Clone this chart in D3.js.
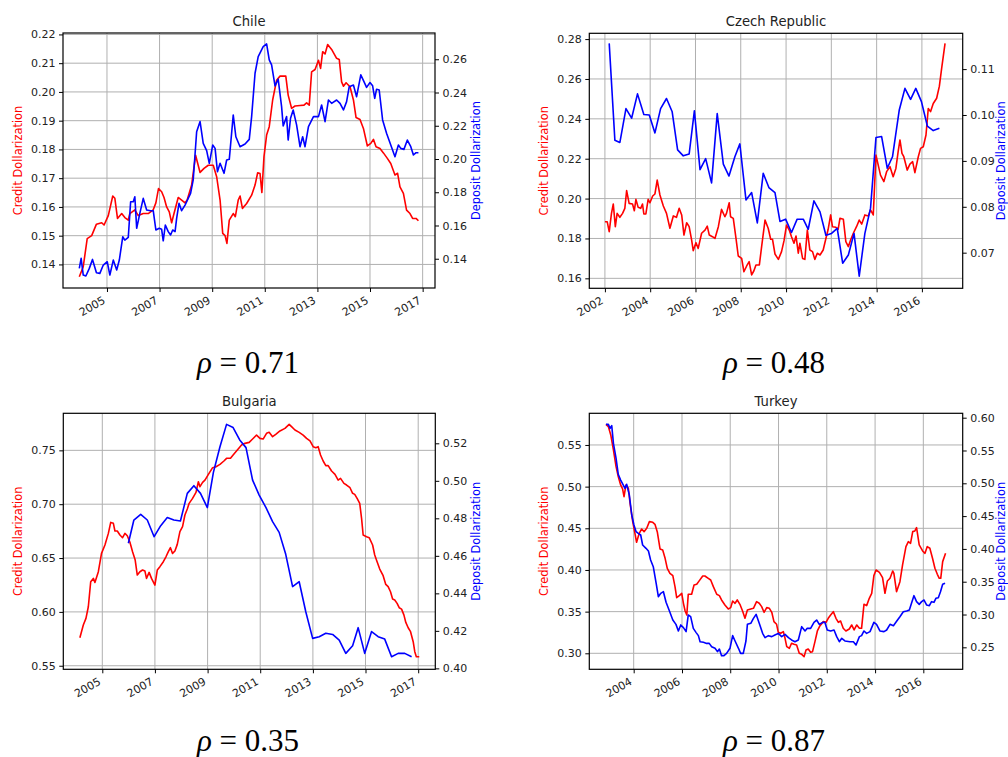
<!DOCTYPE html>
<html><head><meta charset="utf-8">
<script src="https://cdn.jsdelivr.net/npm/d3@7"></script>
<style>body{margin:0;background:#fff}svg{display:block}</style>
</head><body><svg id="c" width="1008" height="757"></svg>
<script>
// ---------- DATA (decimal year, value) ----------
const panelTitles = ["Chile", "Czech Republic", "Bulgaria", "Turkey"];
const rhoLabels = ["0.71", "0.48", "0.35", "0.87"];

const chileCredit = [[2003.95,0.1357],[2004.10,0.1392],[2004.25,0.149],[2004.42,0.150],[2004.6,0.154],[2004.8,0.1545],[2004.89,0.1537],[2005.05,0.157],[2005.22,0.1638],[2005.3,0.163],[2005.4,0.156],[2005.56,0.1577],[2005.68,0.1563],[2005.81,0.1554],[2005.87,0.1577],[2006.06,0.159],[2006.19,0.157],[2006.38,0.1577],[2006.57,0.1577],[2006.76,0.159],[2006.86,0.1614],[2006.96,0.1664],[2007.08,0.1653],[2007.17,0.1633],[2007.27,0.160],[2007.37,0.1583],[2007.46,0.1545],[2007.55,0.1577],[2007.71,0.1633],[2007.84,0.1624],[2007.97,0.1614],[2008.05,0.1624],[2008.22,0.1676],[2008.37,0.178],[2008.54,0.172],[2008.69,0.1734],[2008.85,0.1745],[2009.04,0.1745],[2009.17,0.1705],[2009.3,0.1624],[2009.4,0.1508],[2009.49,0.150],[2009.56,0.1473],[2009.65,0.1554],[2009.8,0.1577],[2009.88,0.1566],[2009.99,0.1624],[2010.06,0.1638],[2010.15,0.1595],[2010.31,0.1612],[2010.5,0.1641],[2010.63,0.1676],[2010.73,0.1719],[2010.82,0.1716],[2010.89,0.165],[2010.97,0.1775],[2011.07,0.185],[2011.17,0.1879],[2011.3,0.1972],[2011.45,0.2041],[2011.58,0.2055],[2011.8,0.2055],[2011.89,0.1989],[2012.02,0.1943],[2012.15,0.1951],[2012.34,0.1953],[2012.49,0.1954],[2012.59,0.1962],[2012.69,0.1954],[2012.78,0.207],[2012.91,0.2078],[2013.04,0.211],[2013.12,0.2082],[2013.2,0.214],[2013.29,0.2132],[2013.39,0.2165],[2013.54,0.2148],[2013.73,0.2117],[2013.83,0.2113],[2013.92,0.2035],[2013.99,0.202],[2014.09,0.2032],[2014.24,0.2018],[2014.37,0.1972],[2014.47,0.1911],[2014.62,0.1904],[2014.75,0.1873],[2014.9,0.1812],[2015.03,0.1821],[2015.13,0.1835],[2015.23,0.1809],[2015.38,0.1803],[2015.51,0.1788],[2015.66,0.1769],[2015.79,0.1751],[2015.95,0.1711],[2016.05,0.1717],[2016.14,0.167],[2016.27,0.1647],[2016.39,0.1589],[2016.52,0.1577],[2016.62,0.156],[2016.75,0.156],[2016.84,0.1552]];
const chileDeposit = [[2003.95,0.1342],[2004.02,0.1402],[2004.1,0.1302],[2004.2,0.1296],[2004.33,0.1342],[2004.45,0.1396],[2004.6,0.1316],[2004.73,0.1312],[2004.86,0.1362],[2005.01,0.1382],[2005.11,0.1302],[2005.24,0.1392],[2005.37,0.1332],[2005.47,0.1392],[2005.6,0.1532],[2005.68,0.1512],[2005.81,0.1528],[2005.9,0.1743],[2006.0,0.1743],[2006.06,0.1773],[2006.13,0.1583],[2006.25,0.1673],[2006.38,0.1763],[2006.51,0.1693],[2006.66,0.1689],[2006.76,0.1689],[2006.86,0.1573],[2006.99,0.1583],[2007.08,0.1577],[2007.14,0.1508],[2007.22,0.1603],[2007.33,0.1563],[2007.42,0.1543],[2007.5,0.1573],[2007.59,0.1563],[2007.65,0.1643],[2007.74,0.1733],[2007.84,0.1689],[2007.97,0.1723],[2008.09,0.1763],[2008.18,0.1793],[2008.28,0.1874],[2008.41,0.2164],[2008.54,0.2225],[2008.66,0.2094],[2008.79,0.205],[2008.89,0.1974],[2009.02,0.2084],[2009.11,0.2064],[2009.2,0.1924],[2009.3,0.1974],[2009.45,0.1914],[2009.55,0.1994],[2009.65,0.1998],[2009.8,0.2265],[2009.9,0.2134],[2010.06,0.2074],[2010.25,0.209],[2010.41,0.2118],[2010.5,0.2255],[2010.63,0.2516],[2010.75,0.2616],[2010.94,0.2676],[2011.07,0.2692],[2011.17,0.2596],[2011.26,0.2566],[2011.39,0.244],[2011.51,0.248],[2011.64,0.2315],[2011.7,0.2199],[2011.83,0.2255],[2011.89,0.2114],[2011.98,0.2245],[2012.08,0.2295],[2012.21,0.2205],[2012.34,0.2074],[2012.44,0.2134],[2012.53,0.2074],[2012.66,0.2195],[2012.85,0.2255],[2013.04,0.2255],[2013.16,0.2325],[2013.29,0.2225],[2013.42,0.2355],[2013.54,0.2335],[2013.73,0.2355],[2013.86,0.2335],[2013.99,0.2295],[2014.11,0.2345],[2014.21,0.2435],[2014.37,0.2445],[2014.49,0.2375],[2014.65,0.2506],[2014.77,0.2466],[2014.87,0.2431],[2015.0,0.246],[2015.1,0.244],[2015.18,0.2365],[2015.25,0.242],[2015.35,0.2415],[2015.48,0.2235],[2015.63,0.2155],[2015.79,0.2084],[2015.95,0.2014],[2016.08,0.2084],[2016.17,0.2064],[2016.29,0.2058],[2016.42,0.2114],[2016.55,0.2074],[2016.65,0.2024],[2016.75,0.2038],[2016.84,0.2038]];

const czechCredit = [[2002.0,0.1884],[2002.1,0.1884],[2002.19,0.1834],[2002.29,0.1926],[2002.37,0.1973],[2002.46,0.1859],[2002.54,0.1926],[2002.66,0.1906],[2002.78,0.1926],[2002.88,0.1951],[2002.96,0.204],[2003.07,0.1976],[2003.22,0.1973],[2003.3,0.1939],[2003.37,0.1996],[2003.47,0.1956],[2003.58,0.1951],[2003.66,0.1973],[2003.72,0.1923],[2003.81,0.1923],[2003.91,0.1996],[2003.99,0.1979],[2004.11,0.2013],[2004.21,0.2023],[2004.31,0.2093],[2004.43,0.2018],[2004.58,0.1963],[2004.72,0.1926],[2004.87,0.1851],[2005.02,0.1913],[2005.16,0.1906],[2005.28,0.1951],[2005.39,0.1918],[2005.49,0.1817],[2005.61,0.1879],[2005.72,0.1859],[2005.83,0.1792],[2005.9,0.1739],[2006.02,0.1779],[2006.12,0.175],[2006.27,0.1826],[2006.42,0.1842],[2006.52,0.1862],[2006.61,0.1817],[2006.75,0.1809],[2006.86,0.18],[2007.01,0.1859],[2007.15,0.1946],[2007.3,0.1909],[2007.37,0.1926],[2007.49,0.1979],[2007.55,0.1909],[2007.67,0.1901],[2007.79,0.18],[2007.89,0.1712],[2008.04,0.17],[2008.14,0.1633],[2008.26,0.1662],[2008.37,0.1684],[2008.48,0.1617],[2008.58,0.1638],[2008.67,0.1667],[2008.82,0.1667],[2008.92,0.1759],[2009.07,0.1892],[2009.21,0.1851],[2009.32,0.1796],[2009.4,0.1796],[2009.51,0.1722],[2009.66,0.1695],[2009.8,0.1734],[2009.91,0.1789],[2010.02,0.1867],[2010.14,0.1842],[2010.24,0.1809],[2010.35,0.1776],[2010.44,0.1812],[2010.54,0.1726],[2010.61,0.1776],[2010.73,0.17],[2010.83,0.1695],[2010.94,0.1842],[2011.05,0.1742],[2011.17,0.1734],[2011.27,0.1695],[2011.38,0.1726],[2011.5,0.1717],[2011.64,0.1742],[2011.76,0.18],[2011.86,0.1846],[2011.97,0.1918],[2012.05,0.1859],[2012.2,0.1856],[2012.3,0.1846],[2012.38,0.1901],[2012.53,0.1896],[2012.64,0.1784],[2012.75,0.1759],[2012.85,0.1792],[2012.97,0.1826],[2013.11,0.1859],[2013.23,0.1892],[2013.34,0.1872],[2013.48,0.1918],[2013.63,0.1913],[2013.73,0.1943],[2013.85,0.1918],[2013.97,0.2218],[2014.07,0.2168],[2014.17,0.2118],[2014.32,0.2085],[2014.44,0.2135],[2014.59,0.216],[2014.73,0.211],[2014.85,0.2151],[2014.95,0.2235],[2015.03,0.2294],[2015.12,0.2227],[2015.2,0.221],[2015.35,0.2143],[2015.47,0.2173],[2015.59,0.2185],[2015.69,0.213],[2015.84,0.221],[2015.94,0.2252],[2016.06,0.226],[2016.18,0.2319],[2016.28,0.2452],[2016.38,0.2436],[2016.5,0.2477],[2016.65,0.2503],[2016.77,0.2564],[2016.87,0.2653],[2017.02,0.2778]];
const czechDeposit = [[2002.19,0.1156],[2002.44,0.0945],[2002.66,0.0940],[2002.93,0.1014],[2003.18,0.0993],[2003.44,0.1046],[2003.72,0.1001],[2003.96,0.1],[2004.21,0.0961],[2004.46,0.1014],[2004.72,0.1036],[2004.97,0.1007],[2005.21,0.0924],[2005.46,0.0911],[2005.72,0.0915],[2005.95,0.1009],[2006.2,0.0881],[2006.45,0.0905],[2006.71,0.0852],[2006.96,0.1003],[2007.23,0.0893],[2007.48,0.0867],[2007.74,0.0909],[2007.96,0.0937],[2008.23,0.0815],[2008.48,0.0831],[2008.73,0.0765],[2008.99,0.0873],[2009.24,0.0842],[2009.51,0.0831],[2009.73,0.0768],[2009.98,0.0773],[2010.24,0.0744],[2010.49,0.0773],[2010.76,0.0773],[2010.98,0.0751],[2011.23,0.0813],[2011.5,0.0789],[2011.76,0.0738],[2012.01,0.0742],[2012.26,0.0753],[2012.5,0.0677],[2012.75,0.0695],[2013.0,0.0742],[2013.23,0.0649],[2013.48,0.0742],[2013.73,0.0797],[2013.97,0.0951],[2014.22,0.0953],[2014.47,0.0884],[2014.7,0.0909],[2015.0,0.1011],[2015.25,0.1058],[2015.5,0.1034],[2015.73,0.1058],[2015.98,0.1029],[2016.24,0.0976],[2016.5,0.0966],[2016.77,0.0971]];

const bulgariaCredit = [[2004.15,0.576],[2004.28,0.5878],[2004.38,0.594],[2004.47,0.6048],[2004.56,0.628],[2004.66,0.6311],[2004.72,0.6274],[2004.85,0.6373],[2004.97,0.6543],[2005.1,0.6621],[2005.23,0.6729],[2005.32,0.6831],[2005.42,0.6822],[2005.48,0.6751],[2005.57,0.6751],[2005.67,0.6714],[2005.77,0.6689],[2005.86,0.6729],[2005.95,0.6707],[2006.05,0.6646],[2006.15,0.6559],[2006.25,0.6481],[2006.33,0.6342],[2006.43,0.6373],[2006.53,0.6389],[2006.62,0.6379],[2006.68,0.6311],[2006.78,0.6367],[2006.87,0.6311],[2007.0,0.6249],[2007.09,0.6389],[2007.19,0.642],[2007.32,0.6466],[2007.42,0.6512],[2007.51,0.6559],[2007.59,0.6596],[2007.67,0.6543],[2007.76,0.6565],[2007.85,0.6627],[2007.95,0.6745],[2008.05,0.6791],[2008.14,0.69],[2008.23,0.6955],[2008.3,0.7008],[2008.43,0.7054],[2008.56,0.711],[2008.65,0.7209],[2008.71,0.7163],[2008.81,0.7203],[2008.9,0.7224],[2009.03,0.7277],[2009.19,0.7339],[2009.32,0.7348],[2009.47,0.737],[2009.62,0.7401],[2009.72,0.7426],[2009.87,0.7426],[2009.97,0.7457],[2010.13,0.7503],[2010.29,0.755],[2010.42,0.7565],[2010.58,0.7574],[2010.71,0.7605],[2010.86,0.7642],[2010.99,0.7611],[2011.11,0.7605],[2011.24,0.7658],[2011.34,0.7667],[2011.47,0.7627],[2011.59,0.7649],[2011.75,0.768],[2011.94,0.7704],[2012.1,0.7741],[2012.19,0.772],[2012.32,0.7689],[2012.48,0.7667],[2012.63,0.7642],[2012.76,0.7611],[2012.89,0.7587],[2013.01,0.7534],[2013.11,0.7525],[2013.2,0.7534],[2013.29,0.7457],[2013.39,0.7401],[2013.49,0.7358],[2013.58,0.7358],[2013.71,0.7308],[2013.84,0.7277],[2013.96,0.7224],[2014.05,0.724],[2014.18,0.7193],[2014.28,0.7178],[2014.41,0.7153],[2014.51,0.7101],[2014.59,0.7091],[2014.68,0.7054],[2014.78,0.7008],[2014.85,0.6868],[2014.91,0.6714],[2015.04,0.6698],[2015.14,0.6689],[2015.27,0.6621],[2015.35,0.6528],[2015.44,0.6466],[2015.54,0.6398],[2015.67,0.6336],[2015.77,0.6255],[2015.86,0.6234],[2015.95,0.6187],[2016.03,0.6119],[2016.11,0.611],[2016.2,0.6079],[2016.28,0.6039],[2016.37,0.6026],[2016.46,0.597],[2016.53,0.5902],[2016.62,0.5853],[2016.71,0.5816],[2016.81,0.5723],[2016.87,0.563],[2016.93,0.5584],[2017.04,0.5584]];
const bulgariaDeposit = [[2005.99,0.4667],[2006.2,0.4791],[2006.46,0.4821],[2006.71,0.4791],[2006.97,0.4702],[2007.22,0.4761],[2007.47,0.4804],[2007.72,0.4791],[2007.97,0.4786],[2008.23,0.4933],[2008.48,0.4974],[2008.73,0.4933],[2008.99,0.4857],[2009.22,0.5045],[2009.47,0.5182],[2009.72,0.5301],[2009.97,0.5284],[2010.22,0.5218],[2010.46,0.5177],[2010.71,0.5004],[2010.96,0.4924],[2011.22,0.4857],[2011.47,0.4782],[2011.72,0.4725],[2011.97,0.4608],[2012.23,0.4436],[2012.48,0.4462],[2012.73,0.4302],[2012.99,0.416],[2013.24,0.4169],[2013.49,0.4187],[2013.75,0.4181],[2014.0,0.4151],[2014.25,0.408],[2014.51,0.4121],[2014.72,0.4217],[2014.97,0.408],[2015.23,0.4196],[2015.48,0.4169],[2015.73,0.4156],[2015.99,0.4062],[2016.24,0.408],[2016.49,0.408],[2016.75,0.4062]];

const turkeyCredit = [[2002.85,0.5748],[2002.95,0.572],[2003.05,0.562],[2003.16,0.544],[2003.27,0.524],[2003.36,0.512],[2003.46,0.502],[2003.54,0.4972],[2003.6,0.488],[2003.68,0.502],[2003.78,0.498],[2003.85,0.48],[2003.96,0.458],[2004.06,0.4428],[2004.12,0.4332],[2004.23,0.444],[2004.33,0.4492],[2004.43,0.446],[2004.54,0.45],[2004.65,0.458],[2004.79,0.4572],[2004.88,0.4548],[2004.98,0.4452],[2005.09,0.4252],[2005.2,0.424],[2005.3,0.414],[2005.39,0.402],[2005.5,0.396],[2005.62,0.3932],[2005.71,0.38],[2005.78,0.3668],[2005.89,0.3692],[2005.99,0.372],[2006.06,0.36],[2006.13,0.3508],[2006.2,0.346],[2006.26,0.3708],[2006.4,0.3708],[2006.5,0.382],[2006.61,0.3828],[2006.72,0.3872],[2006.86,0.3928],[2006.95,0.3928],[2007.09,0.39],[2007.19,0.388],[2007.3,0.38],[2007.44,0.3708],[2007.55,0.3692],[2007.64,0.364],[2007.78,0.358],[2007.92,0.3532],[2008.02,0.3548],[2008.1,0.3628],[2008.2,0.36],[2008.29,0.364],[2008.4,0.3588],[2008.51,0.3508],[2008.61,0.342],[2008.71,0.352],[2008.85,0.3532],[2008.96,0.354],[2009.09,0.362],[2009.2,0.36],[2009.3,0.356],[2009.4,0.3492],[2009.51,0.3548],[2009.62,0.354],[2009.72,0.3492],[2009.81,0.338],[2009.92,0.3348],[2009.99,0.3252],[2010.09,0.324],[2010.2,0.326],[2010.27,0.318],[2010.34,0.308],[2010.45,0.306],[2010.54,0.312],[2010.64,0.3108],[2010.75,0.31],[2010.86,0.3],[2010.96,0.2988],[2011.06,0.296],[2011.14,0.304],[2011.23,0.3052],[2011.33,0.3012],[2011.41,0.302],[2011.51,0.314],[2011.61,0.3268],[2011.72,0.3332],[2011.86,0.338],[2011.97,0.3372],[2012.06,0.342],[2012.16,0.346],[2012.27,0.35],[2012.38,0.342],[2012.48,0.3372],[2012.57,0.3388],[2012.68,0.33],[2012.79,0.3268],[2012.93,0.3292],[2013.03,0.334],[2013.13,0.328],[2013.24,0.334],[2013.35,0.33],[2013.44,0.33],[2013.54,0.3588],[2013.65,0.3572],[2013.76,0.366],[2013.86,0.372],[2013.95,0.3932],[2014.04,0.4],[2014.18,0.3972],[2014.31,0.3908],[2014.41,0.372],[2014.51,0.3868],[2014.62,0.39],[2014.73,0.3988],[2014.78,0.396],[2014.89,0.374],[2015.03,0.386],[2015.14,0.406],[2015.28,0.428],[2015.38,0.434],[2015.47,0.432],[2015.56,0.446],[2015.65,0.4468],[2015.72,0.4508],[2015.83,0.43],[2015.97,0.4228],[2016.07,0.42],[2016.16,0.428],[2016.27,0.426],[2016.38,0.414],[2016.48,0.402],[2016.58,0.3948],[2016.66,0.39],[2016.72,0.39],[2016.8,0.41],[2016.92,0.42]];
const turkeyDeposit = [[2002.85,0.5898],[2002.95,0.5898],[2003.02,0.5837],[2003.09,0.5878],[2003.16,0.5609],[2003.27,0.538],[2003.36,0.5136],[2003.46,0.505],[2003.57,0.4974],[2003.64,0.4923],[2003.71,0.4984],[2003.82,0.4821],[2003.92,0.4517],[2004.01,0.4364],[2004.1,0.4263],[2004.19,0.4237],[2004.29,0.4212],[2004.37,0.406],[2004.51,0.4009],[2004.61,0.3968],[2004.7,0.3831],[2004.81,0.3729],[2004.93,0.3476],[2005.02,0.3272],[2005.12,0.3323],[2005.23,0.3348],[2005.34,0.3186],[2005.48,0.3054],[2005.62,0.2916],[2005.75,0.285],[2005.85,0.2749],[2005.95,0.2841],[2006.06,0.28],[2006.17,0.2739],[2006.26,0.2993],[2006.36,0.2968],[2006.47,0.2789],[2006.58,0.2728],[2006.68,0.2678],[2006.75,0.2586],[2006.89,0.2576],[2007.02,0.256],[2007.13,0.256],[2007.23,0.251],[2007.37,0.2485],[2007.47,0.2434],[2007.55,0.2474],[2007.64,0.2373],[2007.74,0.2373],[2007.85,0.2408],[2007.99,0.2485],[2008.1,0.2678],[2008.2,0.2597],[2008.34,0.2485],[2008.43,0.2408],[2008.54,0.2408],[2008.65,0.2597],[2008.71,0.285],[2008.85,0.2866],[2008.96,0.2942],[2009.07,0.3003],[2009.2,0.2866],[2009.34,0.2713],[2009.44,0.2647],[2009.58,0.2678],[2009.72,0.2663],[2009.85,0.2688],[2009.99,0.2713],[2010.13,0.2663],[2010.27,0.2698],[2010.41,0.2647],[2010.54,0.2612],[2010.68,0.2586],[2010.82,0.2612],[2010.96,0.2815],[2011.1,0.2749],[2011.19,0.2789],[2011.33,0.2789],[2011.47,0.2881],[2011.58,0.2916],[2011.69,0.285],[2011.83,0.2881],[2011.92,0.2881],[2012.02,0.2764],[2012.16,0.2749],[2012.3,0.2764],[2012.41,0.2663],[2012.52,0.2586],[2012.62,0.2637],[2012.75,0.2597],[2012.96,0.2586],[2013.1,0.2586],[2013.21,0.2535],[2013.35,0.2663],[2013.44,0.2678],[2013.54,0.2749],[2013.65,0.2713],[2013.79,0.2739],[2013.95,0.2881],[2014.06,0.285],[2014.2,0.2749],[2014.37,0.2739],[2014.48,0.2764],[2014.62,0.285],[2014.76,0.283],[2014.9,0.2901],[2015.03,0.2967],[2015.17,0.3043],[2015.31,0.3054],[2015.42,0.3069],[2015.51,0.317],[2015.61,0.3287],[2015.72,0.3196],[2015.83,0.3155],[2015.93,0.3196],[2016.03,0.3221],[2016.14,0.3145],[2016.25,0.3135],[2016.34,0.3196],[2016.44,0.3186],[2016.52,0.3247],[2016.62,0.3257],[2016.71,0.3348],[2016.8,0.346],[2016.9,0.3476]];

// tick values
const chileXTicks = [2005, 2007, 2009, 2011, 2013, 2015, 2017];
const chileLeftTicks = [0.14, 0.15, 0.16, 0.17, 0.18, 0.19, 0.20, 0.21, 0.22];
const chileRightTicks = [0.14, 0.16, 0.18, 0.20, 0.22, 0.24, 0.26];
const czechXTicks = [2002, 2004, 2006, 2008, 2010, 2012, 2014, 2016];
const czechLeftTicks = [0.16, 0.18, 0.20, 0.22, 0.24, 0.26, 0.28];
const czechRightTicks = [0.07, 0.08, 0.09, 0.10, 0.11];
const bulgariaXTicks = [2005, 2007, 2009, 2011, 2013, 2015, 2017];
const bulgariaLeftTicks = [0.55, 0.60, 0.65, 0.70, 0.75];
const bulgariaRightTicks = [0.40, 0.42, 0.44, 0.46, 0.48, 0.50, 0.52];
const turkeyXTicks = [2004, 2006, 2008, 2010, 2012, 2014, 2016];
const turkeyLeftTicks = [0.30, 0.35, 0.40, 0.45, 0.50, 0.55];
const turkeyRightTicks = [0.25, 0.30, 0.35, 0.40, 0.45, 0.50, 0.55, 0.60];

// axis extents
const chileXDomain = [2003.33, 2017.47], chileLeftDomain = [0.1318, 0.2205], chileRightDomain = [0.1224, 0.2758];
const czechXDomain = [2001.31, 2017.8], czechLeftDomain = [0.155, 0.2829], czechRightDomain = [0.06224, 0.1178];
const bulgariaXDomain = [2003.52, 2017.65], bulgariaLeftDomain = [0.5467, 0.7844], bulgariaRightDomain = [0.3995, 0.536];
const turkeyXDomain = [2002.16, 2017.63], turkeyLeftDomain = [0.2808, 0.588], turkeyRightDomain = [0.2165, 0.6067];

// ---------- DRAWING ----------
const svg = d3.select('#c');
const FONT = '"DejaVu Sans", sans-serif';
const TXT = '#222';

function yr(d) {
  const y = Math.floor(d);
  const a = new Date(y, 0, 1), b = new Date(y + 1, 0, 1);
  return new Date(+a + (d - y) * (b - a));
}

function panel(p) {
  const g = svg.append('g');
  const x = d3.scaleTime().domain(p.xDomain.map(yr)).range([p.left, p.right]);
  const yL = d3.scaleLinear().domain(p.leftDomain).range([p.bottom, p.top]);
  const yR = d3.scaleLinear().domain(p.rightDomain).range([p.bottom, p.top]);
  const xt = p.xTicks.map(t => new Date(t, 0, 1));

  // grid
  g.append('g').selectAll('line').data(xt).join('line')
    .attr('x1', d => x(d)).attr('x2', d => x(d)).attr('y1', p.top).attr('y2', p.bottom)
    .attr('stroke', '#b0b0b0').attr('stroke-width', 1);
  g.append('g').selectAll('line').data(p.leftTicks).join('line')
    .attr('y1', d => yL(d)).attr('y2', d => yL(d)).attr('x1', p.left).attr('x2', p.right)
    .attr('stroke', '#b0b0b0').attr('stroke-width', 1);

  // lines
  const lineL = d3.line().x(d => x(yr(d[0]))).y(d => yL(d[1]));
  const lineR = d3.line().x(d => x(yr(d[0]))).y(d => yR(d[1]));
  g.append('path').datum(p.credit).attr('d', lineL).attr('fill', 'none')
    .attr('stroke', '#ff0000').attr('stroke-width', 1.6).attr('stroke-linejoin', 'round');
  g.append('path').datum(p.deposit).attr('d', lineR).attr('fill', 'none')
    .attr('stroke', '#0000ff').attr('stroke-width', 1.6).attr('stroke-linejoin', 'round');

  // spines
  g.append('rect').attr('x', p.left).attr('y', p.top)
    .attr('width', p.right - p.left).attr('height', p.bottom - p.top)
    .attr('fill', 'none').attr('stroke', '#000').attr('stroke-width', 1.2);

  // axes
  const ax = g.append('g').attr('transform', `translate(0,${p.bottom})`)
    .call(d3.axisBottom(x).tickValues(xt).tickFormat(d3.timeFormat('%Y')).tickSize(4).tickSizeOuter(0));
  ax.select('.domain').remove();
  ax.selectAll('line').attr('stroke', '#000');
  ax.selectAll('text').attr('y', 0).attr('dy', null).attr('x', 0)
    .attr('text-anchor', 'end').attr('transform', 'translate(-1.3,14.5) rotate(-30)')
    .attr('font-family', FONT).attr('font-size', 11).attr('fill', TXT);
  ax.attr('font-family', FONT).attr('font-size', 11);

  const al = g.append('g').attr('transform', `translate(${p.left},0)`)
    .call(d3.axisLeft(yL).tickValues(p.leftTicks).tickFormat(d3.format('.2f')).tickSize(4).tickPadding(3.5).tickSizeOuter(0));
  al.select('.domain').remove();
  al.selectAll('line').attr('stroke', '#000');
  al.selectAll('text').attr('font-family', FONT).attr('font-size', 11).attr('fill', TXT);

  const ar = g.append('g').attr('transform', `translate(${p.right},0)`)
    .call(d3.axisRight(yR).tickValues(p.rightTicks).tickFormat(d3.format('.2f')).tickSize(4).tickPadding(3.5).tickSizeOuter(0));
  ar.select('.domain').remove();
  ar.selectAll('line').attr('stroke', '#000');
  ar.selectAll('text').attr('font-family', FONT).attr('font-size', 11).attr('fill', TXT);

  // title
  g.append('text').attr('x', (p.left + p.right) / 2).attr('y', p.top - 7)
    .attr('text-anchor', 'middle').attr('font-family', FONT).attr('font-size', 13.2)
    .attr('fill', TXT).text(p.title);

  // y labels
  const cy = (p.top + p.bottom) / 2;
  g.append('text').attr('transform', `translate(${p.left - 41},${cy}) rotate(-90)`)
    .attr('text-anchor', 'middle').attr('font-family', FONT).attr('font-size', 11.4)
    .attr('fill', '#ff0000').text('Credit Dollarization');
  g.append('text').attr('transform', `translate(${p.right + p.rightLabelGap},${cy}) rotate(-90)`)
    .attr('text-anchor', 'middle').attr('font-family', FONT).attr('font-size', 11.4)
    .attr('fill', '#0000ff').text('Deposit Dollarization');

  // rho label
  const rt = g.append('text').attr('x', p.rhoX).attr('y', p.rhoY)
    .attr('text-anchor', 'middle').attr('font-family', '"Liberation Serif", serif')
    .attr('font-size', 31).attr('fill', '#000');
  rt.append('tspan').attr('font-style', 'italic').text('ρ');
  rt.append('tspan').text(' = ' + p.rho);
}

panel({title: panelTitles[0], rho: rhoLabels[0], credit: chileCredit, deposit: chileDeposit,
  xTicks: chileXTicks, leftTicks: chileLeftTicks, rightTicks: chileRightTicks,
  xDomain: chileXDomain, leftDomain: chileLeftDomain, rightDomain: chileRightDomain,
  left: 63, right: 435, top: 33, bottom: 288, rhoX: 248, rhoY: 373, rightLabelGap: 45});
panel({title: panelTitles[1], rho: rhoLabels[1], credit: czechCredit, deposit: czechDeposit,
  xTicks: czechXTicks, leftTicks: czechLeftTicks, rightTicks: czechRightTicks,
  xDomain: czechXDomain, leftDomain: czechLeftDomain, rightDomain: czechRightDomain,
  left: 589.3, right: 962.7, top: 33.3, bottom: 288.3, rhoX: 774, rhoY: 373, rightLabelGap: 42.5});
panel({title: panelTitles[2], rho: rhoLabels[2], credit: bulgariaCredit, deposit: bulgariaDeposit,
  xTicks: bulgariaXTicks, leftTicks: bulgariaLeftTicks, rightTicks: bulgariaRightTicks,
  xDomain: bulgariaXDomain, leftDomain: bulgariaLeftDomain, rightDomain: bulgariaRightDomain,
  left: 63.3, right: 435.3, top: 413.3, bottom: 669.3, rhoX: 248, rhoY: 751, rightLabelGap: 45});
panel({title: panelTitles[3], rho: rhoLabels[3], credit: turkeyCredit, deposit: turkeyDeposit,
  xTicks: turkeyXTicks, leftTicks: turkeyLeftTicks, rightTicks: turkeyRightTicks,
  xDomain: turkeyXDomain, leftDomain: turkeyLeftDomain, rightDomain: turkeyRightDomain,
  left: 589.3, right: 962.7, top: 413.3, bottom: 669.3, rhoX: 774, rhoY: 751, rightLabelGap: 42.5});
</script></body></html>
